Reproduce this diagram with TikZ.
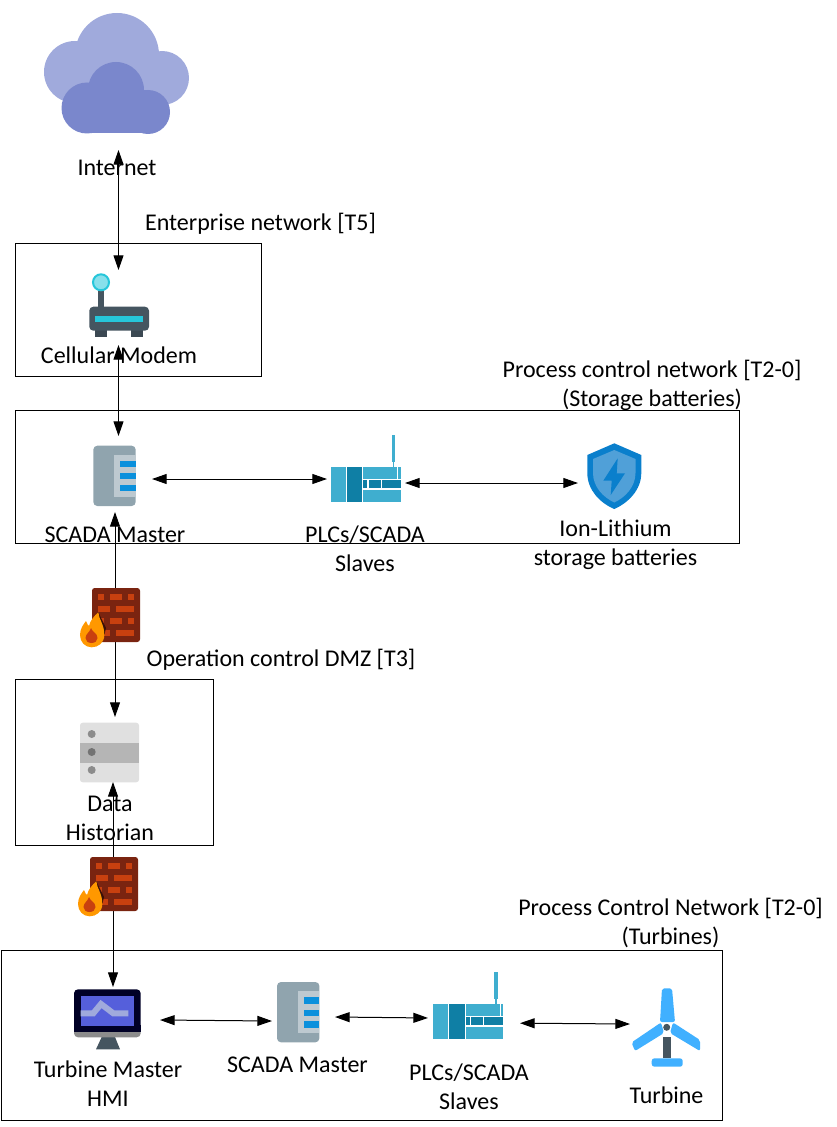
\documentclass[tikz,border=0pt]{standalone}
\usepackage{fontspec}
\setmainfont{Carlito}
\usetikzlibrary{arrows.meta}
\usetikzlibrary{fit}
\definecolor{cloudback}{HTML}{A0AADC}
\definecolor{cloudfront}{HTML}{7A87CC}
\definecolor{slate}{HTML}{455560}
\definecolor{aqua}{HTML}{26C6DA}
\definecolor{steel}{HTML}{90A4AE}
\definecolor{steellight}{HTML}{BDC9D0}
\definecolor{barblue}{HTML}{0A90DC}
\definecolor{plclight}{HTML}{3FAECF}
\definecolor{plcdark}{HTML}{0F7FA5}
\definecolor{brickdark}{HTML}{7A2410}
\definecolor{brick}{HTML}{C8400F}
\definecolor{flame}{HTML}{FF9800}
\definecolor{shieldout}{HTML}{0A7FCC}
\definecolor{shieldin}{HTML}{50A0D8}
\definecolor{blade}{HTML}{40B0FF}
\tikzset{
  zone/.style={draw,inner sep=0pt,outer sep=0pt,line width=0.75pt},
  iconbox/.style 2 args={inner sep=0pt,outer sep=0pt,minimum width=#1*0.75pt,minimum height=#2*0.75pt},
  lbl/.style={inner sep=0pt,align=center,font=\fontsize{18}{21.6}\selectfont},
  link/.style={line width=0.75pt,{Triangle[length=11pt,width=7.5pt]}-{Triangle[length=11pt,width=7.5pt]}},
  pics/master/.style={code={
    \fill[steel,rounded corners=3] (0,0) rectangle (42.4,60.3);
    \fill[steellight] (21,9.3) rectangle (42.4,51);
    \fill[barblue] (26.7,15.3) rectangle (42.4,21.6);
    \fill[barblue] (26.7,27.6) rectangle (42.4,33.6);
    \fill[barblue] (26.7,39.3) rectangle (42.4,45.6);
  }},
  pics/plc/.style={code={
    \fill[plclight] (61.3,0) rectangle (64.6,27);
    \fill[plclight] (62.3,27) rectangle (63.6,32.3);
    \fill[plclight] (0,32.3) rectangle (15.3,67.3);
    \fill[plcdark] (16.3,32.3) rectangle (31.6,67.3);
    \fill[plclight] (32.6,32.3) rectangle (66.6,44);
    \fill[plclight] (67.6,32.3) rectangle (70.3,44);
    \fill[plcdark] (32.6,45.3) rectangle (36.6,53.3);
    \fill[plcdark] (38,45.3) rectangle (50,53.3);
    \fill[plcdark] (51.3,45.3) rectangle (70.3,53.3);
    \fill[plclight] (32.6,54.7) rectangle (70.3,67.3);
  }},
  pics/firewall/.style={code={
    \fill[brickdark,rounded corners=2] (0,0) rectangle (48,54);
    \foreach \bx/\by/\bw in {6/6/6,18/6/12,36/6/6,6/18/12,24/18/18,6/30/6,18/30/12,36/30/6,6/42/12,24/42/18}
      \fill[brick] (\bx,\by) rectangle ++(\bw,6);
    \fill[black!55!brickdark] (6.3,24.3) -- (14,40) -- (12.3,47) -- (4,45) -- cycle;
    \fill[flame] (6.3,24.3) .. controls (7,32) and (12.3,36) .. (12.3,47) .. controls (12.3,55) and (6,59.3) .. (-0.3,59.3) .. controls (-7,59.3) and (-12,54) .. (-12,47) .. controls (-12,40) and (-8,36) .. (-6,33) .. controls (-5,36) and (-4,37) .. (-3,38) .. controls (-2,33) and (2,28) .. (6.3,24.3) -- cycle;
    \fill[brick] (-1,40) .. controls (0,44) and (5.5,45) .. (5.5,50) .. controls (5.5,53) and (3,55) .. (-0.5,55) .. controls (-4,55) and (-6.5,53) .. (-6.5,50) .. controls (-6.5,46) and (-2,44) .. (-1,40) -- cycle;
  }}
}
\begin{document}
\begin{tikzpicture}[x=0.75pt,y=-0.75pt]
\useasboundingbox (0,0) rectangle (836,1127);
\node (enterprise) [zone,fit={(15.5,243)(261.5,376)}] {};
\node (storagepcn) [zone,fit={(15.5,410)(739.5,543)}] {};
\node (dmz) [zone,fit={(15.5,679)(213.5,845)}] {};
\node (turbinepcn) [zone,fit={(1.5,950.5)(722.5,1120)}] {};
% cloud
\fill[cloudback] (117,55) circle [radius=42];
\fill[cloudback] (75,72) circle [radius=31];
\fill[cloudback] (162,78) circle [radius=27];
\fill[cloudback] (75,70) rectangle (162,100);
\fill[cloudfront] (116,90) circle [radius=28];
\fill[cloudfront] (87,108) circle [radius=25.5];
\fill[cloudfront] (148,112) circle [radius=22];
\fill[cloudfront] (87,90) rectangle (148,133.5);
% modem
\fill[slate] (98.3,285) rectangle (104,308);
\filldraw[fill=aqua!55,draw=aqua,line width=1.5] (101,282.3) circle [radius=8];
\fill[slate!85!black] (95,330) rectangle (106.7,336.7);
\fill[slate!85!black] (131,330) rectangle (143,336.7);
\fill[slate,rounded corners=3] (89.3,306.7) rectangle (149,330.7);
\fill[aqua] (95,315.7) rectangle (143.3,321.7);
\pic at (93.3,445.7) {master};
\pic at (330.7,435) {plc};
% shield
\fill[shieldout] (614.3,443.3) -- (641.3,455) -- (641.3,473) .. controls (641.3,490) and (628,503) .. (614.3,509) .. controls (600,503) and (587.3,490) .. (587.3,473) -- (587.3,455) -- cycle;
\fill[shieldin] (614.3,450) -- (635.5,459) -- (635.5,473) .. controls (635.5,487) and (625,497.5) .. (614.3,502.5) .. controls (603.5,497.5) and (593,487) .. (593,473) -- (593,459) -- cycle;
\fill[shieldout] (617.7,458.3) -- (603.3,480.7) -- (611.7,480.7) -- (610.7,495) -- (625,473.3) -- (616.7,473.3) -- cycle;
% historian
\fill[black!12,rounded corners=2] (80,722.7) rectangle (139,782.3);
\fill[black!29] (80,742.7) rectangle (139,763.3);
\fill[black!45] (91.7,734) circle [radius=4];
\fill[black!55] (91.7,752) circle [radius=4];
\fill[black!45] (91.7,770) circle [radius=4];
% hmi
\fill[slate] (101.7,1037) -- (115,1037) -- (120,1049.3) -- (96,1049.3) -- cycle;
\fill[black!45,rounded corners=3] (74,1025) rectangle (140.7,1037.3);
\fill[black!85!blue,rounded corners=3] (74,989.3) rectangle (140.7,1031.7);
\fill[black!85!blue] (74,1025) rectangle (140.7,1031.7);
\fill[cloudfront!70!blue] (80.7,995.7) rectangle (134.3,1025.7);
\draw[cloudback,line width=4.5pt] (80.7,1013.3) -- (93.3,1013.3) -- (101,1004) -- (113.3,1013.3) -- (128.3,1013.3);
\pic at (277,982) {master};
\pic at (433,972) {plc};
% turbine
\fill[slate] (663.3,1036.7) rectangle (670.7,1058.3);
\fill[blade,rounded corners=2] (651.7,1058.3) rectangle (682.7,1066.7);
\fill[blade,rounded corners=1.5] (662,988.3) -- (672,988.3) -- (675,1022) -- (660,1022) -- cycle;
\fill[blade,rounded corners=1.5] (631.5,1042.5) -- (661,1022.5) -- (664,1033) -- (635,1051) -- cycle;
\fill[blade,rounded corners=1.5] (700,1040) -- (673,1022.5) -- (670,1033) -- (700,1051) -- cycle;
\fill[slate] (666.7,1027.3) circle [radius=3.5];
% labels
\draw (117,168) node (lblinternet) [lbl] {Internet};
\draw (260.5,224) node (lblenterprise) [lbl] {Enterprise network [T5]};
\draw (119,355.5) node (lblmodem) [lbl] {Cellular Modem};
\draw (652,385) node (lblstorage) [lbl] {Process control network [T2-0]\\(Storage batteries)};
\draw (115,535) node (lblmaster) [lbl] {SCADA Master};
\draw (365,548.5) node (lblplc) [lbl] {PLCs/SCADA\\Slaves};
\draw (615.5,544.5) node (lblbattery) [lbl] {Ion-Lithium\\storage batteries};
\draw (281,660) node (lbldmz) [lbl] {Operation control DMZ [T3]};
\draw (110,818) node (lblhistorian) [lbl] {Data\\Historian};
\draw (670.5,923) node (lblturbinepcn) [lbl] {Process Control Network [T2-0]\\(Turbines)};
\draw (108,1083.5) node (lblhmi) [lbl] {Turbine Master\\HMI};
\draw (297.5,1065) node (lblmaster2) [lbl] {SCADA Master};
\draw (469,1086.5) node (lblplc2) [lbl] {PLCs/SCADA\\Slaves};
\draw (666.5,1095.5) node (lblturbine) [lbl] {Turbine};
% anchors of the icons
\draw (118.5,84) node (cloud) [iconbox={154}{132}] {};
\draw (118.5,307.5) node (modem) [iconbox={64}{75}] {};
\draw (118,474) node (master) [iconbox={68}{76}] {};
\draw (366,479) node (plc) [iconbox={78}{48}] {};
\draw (614,483) node (battery) [iconbox={72}{80}] {};
\draw (115,749.5) node (historian) [iconbox={70}{65}] {};
\draw (113,1020) node (hmi) [iconbox={94}{66}] {};
\draw (303.5,1019) node (master2) [iconbox={63}{62}] {};
\draw (474,1020.5) node (plc2) [iconbox={92}{60}] {};
\draw (666,1024) node (turbine) [iconbox={72}{80}] {};
% links
\draw[link] (cloud.south) -- (modem.north);
\draw[link] (modem.south) -- (modem.south |- master.north);
\draw[link] ([yshift=-3.75pt]master.east) -- (plc.west);
\draw[link] ([yshift=-3pt]plc.east) -- (battery.west);
\draw[link] (historian.north |- master.south) -- (historian.north);
\draw[link] (hmi.north |- historian.south) -- (hmi.north);
\draw[link] (hmi.east) -- ([yshift=-1.5pt]master2.west);
\draw[link] ([yshift=1.5pt]master2.east) -- ([yshift=1.9pt]plc2.west);
\draw[link] ([yshift=-2pt]plc2.east) -- (turbine.west);
% firewalls
\pic at (92,588) {firewall};
\pic at (90,857) {firewall};
\end{tikzpicture}
\end{document}
